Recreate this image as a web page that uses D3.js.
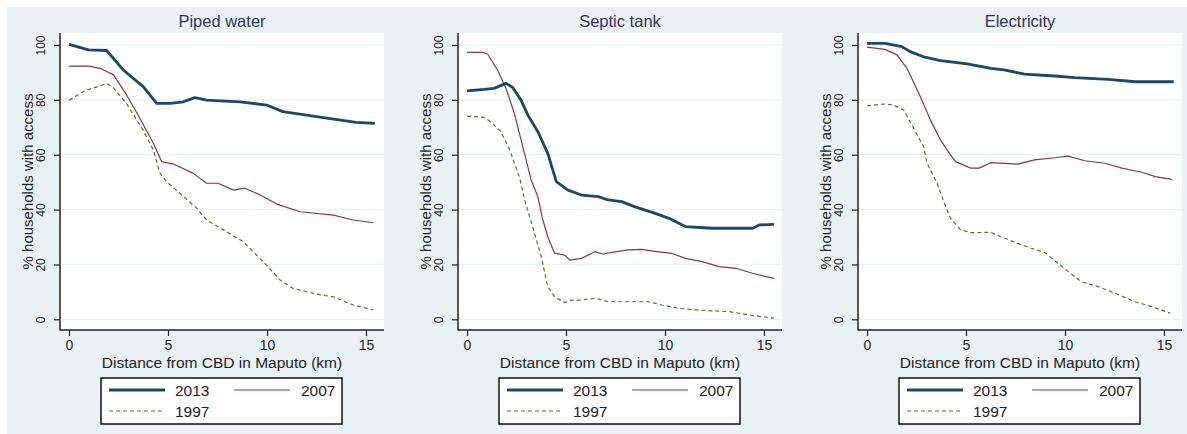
<!DOCTYPE html>
<html>
<head>
<meta charset="utf-8">
<script src="https://cdn.jsdelivr.net/npm/d3@7"></script>
<style>
  html, body { margin: 0; padding: 0; background: #ffffff; }
  svg { display: block; font-family: "Liberation Sans", Arial, sans-serif; }
</style>
</head>
<body>
<svg id="chart" width="1187" height="434"></svg>
<script>
// Share of households with access to each service, by distance (km) from the CBD.
// Each series: [distance km, % households]
const pipedWater2013 = [[0,100.2],[0.98,98.2],[1.9,98],[2.74,90.9],[3.75,84.8],[4.43,78.7],[5.1,78.7],[5.77,79.3],[6.36,80.8],[6.95,79.9],[8.63,79.3],[9.98,78.1],[10.8,75.7],[12.5,73.9],[14.5,71.8],[15.45,71.4]];
const pipedWater2007 = [[0,92.3],[0.98,92.3],[1.57,91.5],[2.25,89.1],[2.91,81.8],[3.58,73.3],[4.26,64.2],[4.68,57.5],[5.27,56.6],[6.28,53.2],[6.95,49.6],[7.53,49.6],[8.3,47.1],[8.89,47.8],[9.65,45.3],[10.5,42],[11.67,39.2],[13.35,38],[14.36,36.2],[15.37,35.2]];
const pipedWater1997 = [[0,79.9],[0.88,83.6],[1.55,85],[1.89,86],[2.22,84.6],[2.9,78.7],[3.74,69],[4.26,61.7],[4.6,53.2],[4.93,50.2],[5.6,45.9],[6.45,40.5],[6.95,36.2],[7.8,32.6],[8.8,28.3],[9.97,19.8],[10.66,14.3],[11.3,11.3],[12.7,8.9],[13.35,8.2],[14.36,5.2],[15.37,3.4]];

const septicTank2013 = [[0,83.3],[0.86,83.8],[1.37,84.2],[1.97,86],[2.3,84.6],[2.73,79.9],[3.07,74.5],[3.58,68.4],[4.08,60.5],[4.51,50.2],[5.1,47.1],[5.78,45.3],[6.63,44.7],[7.13,43.5],[7.81,42.9],[8.49,41],[9.51,38.6],[10.2,36.8],[11.03,33.8],[12.39,33.2],[14.42,33.2],[14.76,34.4],[15.5,34.6]];
const septicTank2007 = [[0,97.3],[0.8,97.3],[1.04,96.7],[1.54,90.9],[1.97,84.2],[2.39,75.1],[2.73,65.4],[3.24,50.8],[3.58,44.7],[3.8,37],[4.08,30.1],[4.42,24.1],[4.93,23.4],[5.19,21.6],[5.78,22.2],[6.46,24.6],[6.88,23.8],[7.47,24.6],[8.15,25.3],[8.83,25.5],[9.68,24.6],[10.36,24],[11.03,22.2],[11.88,21],[12.73,19.2],[13.58,18.6],[14.42,16.8],[15.5,14.9]];
const septicTank1997 = [[0,74.1],[0.86,73.6],[1.2,72],[1.71,68.4],[2.13,62.3],[2.64,52],[2.95,42.5],[3.41,31.4],[3.75,22.8],[4.08,11.9],[4.42,8.2],[4.93,6.1],[5.27,7],[5.78,7],[6.46,7.7],[7.13,6.4],[9.17,6.4],[9.85,5.2],[10.7,4],[11.54,3.4],[13.24,2.8],[14.6,1.2],[15.5,0.4]];

const electricity2013 = [[0,100.6],[0.91,100.6],[1.76,99.4],[2.18,97.6],[2.86,95.7],[3.71,94.3],[5.07,93.1],[6.25,91.5],[6.93,90.9],[7.95,89.4],[9.48,88.7],[10.49,88.1],[12.19,87.5],[13.54,86.6],[15.49,86.6]];
const electricity2007 = [[0,99.2],[0.91,98.4],[1.51,96.4],[2.02,91.5],[2.69,81.2],[3.2,72.7],[3.71,65.4],[4.05,61.7],[4.47,57.5],[5.24,55.1],[5.66,55.1],[6.25,57.1],[7.61,56.6],[8.46,58.1],[9.48,58.9],[10.15,59.5],[11,57.8],[12.02,56.9],[12.87,55.1],[13.88,53.6],[14.56,52],[15.41,51]];
const electricity1997 = [[0,77.8],[0.83,78.5],[1.34,78.1],[1.85,76.3],[2.36,69.6],[2.86,62.9],[3.03,56.9],[3.54,49.6],[3.92,42],[4.22,36.8],[4.73,32.6],[5.24,31.6],[6.25,31.7],[6.76,30.1],[7.61,27.7],[8.29,25.9],[8.97,24.4],[9.65,20.4],[10.15,17.4],[10.83,13.7],[11.68,11.9],[12.53,9.5],[13.54,6.4],[14.39,4.6],[15.32,2.2]];

const panelTitles = ["Piped water", "Septic tank", "Electricity"];
const xTicks = [0, 5, 10, 15];
const yTicks = [0, 20, 40, 60, 80, 100];
const years = ["2013", "2007", "1997"];
const xTitle = "Distance from CBD in Maputo (km)";
const yTitle = "% households with access";

const panelSeries = [
  [pipedWater2013, pipedWater2007, pipedWater1997],
  [septicTank2013, septicTank2007, septicTank1997],
  [electricity2013, electricity2007, electricity1997]
];

const yearStyle = {
  "2013": { color: "#1a476f", width: 2.8, dash: null },
  "2007": { color: "#90353b", width: 1.2, dash: null },
  "1997": { color: "#55752f", width: 1.2, dash: "4,3" }
};

const svg = d3.select("#chart");
const W = 1187, H = 434;

// Graph region background
svg.append("rect").attr("x", 7).attr("y", 7).attr("width", W - 7).attr("height", H - 7)
  .attr("fill", "#eaf1f4");

const panelOffsets = [0, 398, 798];
const plotW = 324, plotTop = 33, plotBottom = 330;

panelTitles.forEach((title, i) => {
  const L = panelOffsets[i] + 60;
  const R = L + plotW;
  const g = svg.append("g");

  const x = d3.scaleLinear().domain([0, 15]).range([L + 9, L + 306]);
  const y = d3.scaleLinear().domain([0, 100]).range([319.3, 45]);

  // plot region
  g.append("rect").attr("x", L).attr("y", plotTop).attr("width", plotW).attr("height", plotBottom - plotTop)
    .attr("fill", "#ffffff");

  // horizontal grid
  g.selectAll(".grid").data(yTicks).join("line")
    .attr("x1", L).attr("x2", R)
    .attr("y1", d => y(d)).attr("y2", d => y(d))
    .attr("stroke", "#eaf2f3").attr("stroke-width", 1.2);

  // title
  g.append("text").attr("x", (L + R) / 2).attr("y", 27)
    .attr("text-anchor", "middle").attr("font-size", 16.5).attr("fill", "#33335e")
    .text(title);

  // series lines, drawn oldest first so 2013 sits on top
  const line = d3.line().x(d => x(d[0])).y(d => y(d[1]));
  [2, 1, 0].forEach(k => {
    const st = yearStyle[years[k]];
    g.append("path").datum(panelSeries[i][k])
      .attr("d", line)
      .attr("fill", "none")
      .attr("stroke", st.color)
      .attr("stroke-width", st.width)
      .attr("stroke-dasharray", st.dash)
      .attr("stroke-linejoin", "round");
  });

  // axes
  const xAxis = d3.axisBottom(x).tickValues(xTicks).tickSize(6).tickSizeOuter(0).tickPadding(0);
  const xg = g.append("g").attr("transform", `translate(0,${plotBottom})`).call(xAxis);
  xg.select(".domain").remove();
  xg.selectAll(".tick line").attr("stroke", "#222").attr("stroke-width", 1.2);
  xg.selectAll(".tick text").attr("font-size", 14).attr("fill", "#222")
    .attr("font-family", "Liberation Sans, Arial, sans-serif")
    .attr("y", 20).attr("dy", null);

  const yAxis = d3.axisLeft(y).tickValues(yTicks).tickSize(6).tickSizeOuter(0).tickPadding(0);
  const yg = g.append("g").attr("transform", `translate(${L},0)`).call(yAxis);
  yg.select(".domain").remove();
  yg.selectAll(".tick line").attr("stroke", "#222").attr("stroke-width", 1.2);
  yg.selectAll(".tick text")
    .attr("font-size", 12).attr("fill", "#222")
    .attr("font-family", "Liberation Sans, Arial, sans-serif")
    .attr("text-anchor", "middle")
    .attr("x", null).attr("dy", null)
    .attr("transform", "translate(-15,0) rotate(-90)");

  // axis lines
  g.append("line").attr("x1", L).attr("x2", L).attr("y1", plotTop).attr("y2", plotBottom + 0.6)
    .attr("stroke", "#222").attr("stroke-width", 1.5);
  g.append("line").attr("x1", L).attr("x2", R).attr("y1", plotBottom).attr("y2", plotBottom)
    .attr("stroke", "#222").attr("stroke-width", 1.5);

  // axis titles
  g.append("text").attr("x", (L + R) / 2).attr("y", 368)
    .attr("text-anchor", "middle").attr("font-size", 15.5).attr("fill", "#222")
    .text(xTitle);
  g.append("text")
    .attr("transform", `translate(${L - 27},${(plotTop + plotBottom) / 2}) rotate(-90)`)
    .attr("text-anchor", "middle").attr("font-size", 15).attr("fill", "#222")
    .text(yTitle);

  // legend
  const bx = L + 41, by = 378, bw = 241, bh = 46;
  const lg = g.append("g");
  lg.append("rect").attr("x", bx).attr("y", by).attr("width", bw).attr("height", bh)
    .attr("fill", "#ffffff").attr("stroke", "#111").attr("stroke-width", 1.5);
  const slots = [
    { lx: bx + 8, tx: bx + 74, ly: by + 12 },
    { lx: bx + 133, tx: bx + 200, ly: by + 12 },
    { lx: bx + 8, tx: bx + 74, ly: by + 33 }
  ];
  years.forEach((yr, k) => {
    const s = slots[k], st = yearStyle[yr];
    lg.append("line").attr("x1", s.lx).attr("x2", s.lx + 56).attr("y1", s.ly).attr("y2", s.ly)
      .attr("stroke", st.color).attr("stroke-width", st.width).attr("stroke-dasharray", st.dash);
    lg.append("text").attr("x", s.tx).attr("y", s.ly + 5.5)
      .attr("font-size", 15.5).attr("fill", "#222").text(yr);
  });
});
</script>
</body>
</html>
